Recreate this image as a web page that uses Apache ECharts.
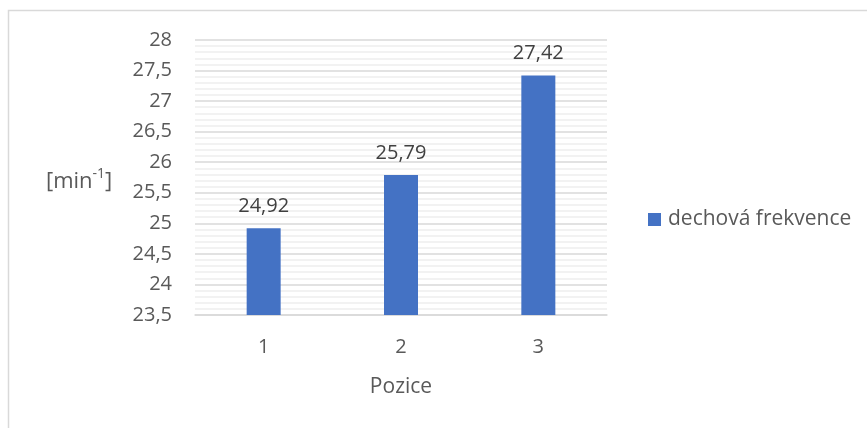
<!DOCTYPE html>
<html>
<head>
<meta charset="utf-8">
<script src="https://cdn.jsdelivr.net/npm/echarts@6/dist/echarts.min.js"></script>
<style>
  html, body { margin: 0; padding: 0; background: #fff; }
  #chart { width: 867px; height: 428px; }
</style>
</head>
<body>
<div id="chart"></div>
<script>
// Breathing rate by position
const categories = ['1', '2', '3'];
const breathingRate = [24.92, 25.79, 27.42];
const seriesName = 'dechová frekvence';
const axisTitleX = 'Pozice';

const FONT = '"Open Sans", sans-serif';
const commaNum = v => String(v).replace('.', ',');

const chart = echarts.init(document.getElementById('chart'), null, { renderer: 'canvas' });

chart.setOption({
  backgroundColor: '#ffffff',
  animation: false,
  textStyle: { fontFamily: FONT },
  grid: { left: 195, right: 260, top: 40, bottom: 113 },
  legend: {
    show: true,
    data: [seriesName],
    left: 648,
    top: 209,
    padding: 0,
    itemWidth: 13,
    itemHeight: 13,
    icon: 'rect',
    textStyle: { fontFamily: FONT, fontSize: 21, color: '#595959', padding: [0, 0, 0, 2] }
  },
  xAxis: {
    type: 'category',
    data: categories,
    name: axisTitleX,
    nameLocation: 'middle',
    nameGap: 62,
    nameTextStyle: { fontFamily: FONT, fontSize: 21, color: '#595959' },
    axisLine: { show: true, lineStyle: { color: '#d9d9d9', width: 1.5 } },
    axisTick: { show: false },
    axisLabel: { fontFamily: FONT, fontSize: 20, color: '#595959', margin: 22 }
  },
  yAxis: {
    type: 'value',
    min: 23.5,
    max: 28,
    interval: 0.5,
    axisLine: { show: false },
    axisTick: { show: false },
    axisLabel: {
      fontFamily: FONT, fontSize: 20, color: '#595959', margin: 23,
      formatter: v => commaNum(v)
    },
    splitLine: { show: true, lineStyle: { color: '#d9d9d9', width: 1.5 } },
    minorTick: { show: false, splitNumber: 5 },
    minorSplitLine: { show: true, lineStyle: { color: '#eeeeee', width: 1.5 } }
  },
  series: [{
    name: seriesName,
    type: 'bar',
    data: breathingRate,
    barWidth: 34,
    itemStyle: { color: '#4472C4' },
    label: {
      show: true,
      position: 'top',
      distance: 12,
      fontFamily: FONT,
      fontSize: 20,
      color: '#404040',
      formatter: p => commaNum(p.value)
    }
  }],
  graphic: [
    {
      type: 'rect',
      shape: { x: 8.5, y: 10.5, width: 900, height: 500 },
      style: { fill: 'none', stroke: '#d9d9d9', lineWidth: 1.5 },
      silent: true,
      z: -1
    },
    {
      type: 'text',
      left: 46,
      top: 167,
      style: {
        text: '{b|[min}{s|-1}{b|]}',
        rich: {
          b: { fontFamily: FONT, fontSize: 22, fill: '#595959', verticalAlign: 'bottom', lineHeight: 26 },
          s: { fontFamily: FONT, fontSize: 14, fill: '#595959', verticalAlign: 'top', lineHeight: 26, padding: [0, 0, 11, 0] }
        }
      }
    }
  ]
});
</script>
</body>
</html>
